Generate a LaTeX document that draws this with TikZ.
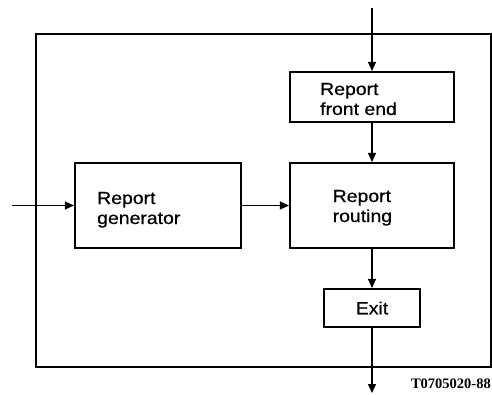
\documentclass[tikz,border=0pt]{standalone}
\usepackage{fontspec}
\setmainfont{Liberation Sans}[FakeStretch=1.11, FakeBold=0.6]
\newfontfamily\codefont{Liberation Serif}
\usetikzlibrary{arrows.meta}

\tikzset{
  block/.style={draw, line width=2.1pt, rectangle, inner sep=0pt},
  blocktext/.style={anchor=base west, align=left, inner sep=0pt,
    font=\fontsize{17.5}{20}\selectfont},
  flow/.style={line width=1.3pt, -{Triangle[length=9pt,width=8pt]}},
  frame/.style={line width=1.6pt}
}

\begin{document}
\begin{tikzpicture}[x=1pt,y=1pt]
  \useasboundingbox (0,0) rectangle (492,394);

  % enclosing system boundary
  \draw[frame] (36,360) -- (491,360) -- (491,27) -- (36,27) -- cycle;

  % functional blocks
  \node[block, minimum width=164pt, minimum height=50pt] (front) at (372,297) {};
  \node[block, minimum width=166pt, minimum height=85pt] (gen) at (158,188.5) {};
  \node[block, minimum width=164pt, minimum height=85pt] (route) at (372,188.5) {};
  \node[block, minimum width=96pt, minimum height=38pt,
        font=\fontsize{17.5}{20}\selectfont] (exit) at (372,86) {Exit};

  % block captions (base anchor sits on the last line)
  \node[blocktext] (fronttext) at (320,279) {Report\\front end};
  \node[blocktext] (gentext) at (97,170) {Report\\generator};
  \node[blocktext] (routetext) at (332.5,172) {Report\\routing};

  % free ends of the external flows
  \coordinate (top) at (372,386);
  \coordinate (in) at (12,188.5);
  \coordinate (out) at (372,1);

  % flows
  \draw[flow] (top) -- (front.north);
  \draw[flow] (front.south) -- (route.north);
  \draw[flow] (in) -- (gen.west);
  \draw[flow] (gen.east) -- (route.west);
  \draw[flow] (route.south) -- (exit.north);
  \draw[flow] (exit.south) -- (out);

  % figure reference
  \node[anchor=base east, inner sep=0pt, font=\codefont\bfseries\fontsize{14.5}{14.5}\selectfont]
    (ref) at (491,6) {T0705020-88};
\end{tikzpicture}
\end{document}
